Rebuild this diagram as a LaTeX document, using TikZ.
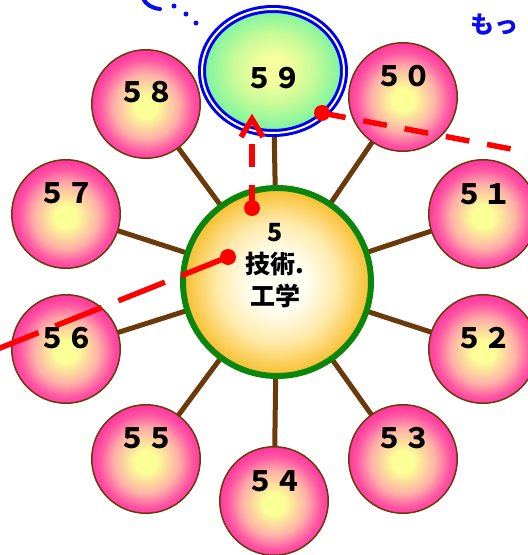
\documentclass[tikz,border=0pt]{standalone}
\usepackage{fontspec}
\newfontfamily\jp{Noto Sans CJK JP}
\usetikzlibrary{backgrounds,calc,shapes.geometric}
\definecolor{ballin}{HTML}{FAFF96}
\definecolor{ballmid}{HTML}{FFB0A8}
\definecolor{ballpk}{HTML}{FF55A4}
\definecolor{ballout}{HTML}{FF3A9C}
\definecolor{ballborder}{HTML}{6B3A0A}
\definecolor{spokebrown}{HTML}{6B3A0A}
\definecolor{ringgreen}{HTML}{0A870A}
\definecolor{corein}{HTML}{FFFFF6}
\definecolor{coremid}{HTML}{FFEAAA}
\definecolor{coreout}{HTML}{F8BE2C}
\definecolor{grin}{HTML}{F6FF9E}
\definecolor{grmid}{HTML}{C8FB98}
\definecolor{grout}{HTML}{78F49E}
\definecolor{ringblue}{HTML}{0000F0}
\definecolor{txtblue}{HTML}{0A0AEE}
\pgfdeclareradialshading{pinkball}{\pgfpoint{0bp}{-1.5bp}}{color(0bp)=(ballin); color(5bp)=(ballin); color(15bp)=(ballmid); color(21.5bp)=(ballpk); color(25bp)=(ballout); color(50bp)=(ballout)}
\pgfdeclareradialshading{coreshade}{\pgfpoint{0bp}{0bp}}{color(0bp)=(corein); color(7bp)=(corein); color(16bp)=(coremid); color(25bp)=(coreout); color(50bp)=(coreout)}
\pgfdeclareradialshading{greenball}{\pgfpoint{0bp}{1bp}}{color(0bp)=(grin); color(5bp)=(grin); color(14bp)=(grmid); color(25bp)=(grout); color(50bp)=(grout)}
\begin{document}
\begin{tikzpicture}[x=1pt,y=-1pt,
  ball/.style={circle, minimum size=108.5pt, inner sep=0pt, draw=ballborder, line width=1.5pt, shading=pinkball},
  core/.style={circle, minimum size=188pt, inner sep=0pt, draw=ringgreen, line width=6pt, shading=coreshade},
  goal/.style={ellipse, minimum width=142pt, minimum height=124pt, inner sep=0pt, draw=ringblue, double=white, line width=3pt, double distance=2pt, shading=greenball},
  numtxt/.style={font=\jp\bfseries\fontsize{28}{30}\selectfont, inner sep=0pt},
  coretxt/.style={font=\jp\bfseries\fontsize{25}{32}\selectfont, inner sep=0pt, align=center},
  spoke/.style={draw=spokebrown, line width=5pt},
  redline/.style={draw=red, line width=5.5pt},
  reddot/.style={circle, fill=red, minimum size=16pt, inner sep=0pt},
  bluetxt/.style={font=\jp\bfseries\fontsize{24}{26}\selectfont, text=txtblue, inner sep=0pt},
  bluedot/.style={circle, fill=txtblue, minimum size=5pt, inner sep=0pt}
]
\useasboundingbox (0,0) rectangle (528,555);
% nodes
\node[core] (c) at (277,282) {};
\node[goal] (s59) at (273,71) {};
\node[ball] (s50) at (403,97) {};
\node[ball] (s51) at (483,214) {};
\node[ball] (s52) at (483,349) {};
\node[ball] (s53) at (403,459) {};
\node[ball] (s54) at (274,501) {};
\node[ball] (s55) at (146,459) {};
\node[ball] (s56) at (66,349) {};
\node[ball] (s57) at (66,214) {};
\node[ball] (s58) at (146,104) {};
% spokes
\begin{scope}[on background layer]
  \fill[white] (0,0) rectangle (528,555);
  \foreach \s in {s59,s50,s51,s52,s53,s54,s55,s56,s57,s58}
    \draw[spoke] (c.center) -- (\s.center);
\end{scope}
% red connectors
\node[reddot] (d1) at (322,113) {};
\node[reddot] (d2) at (252,208) {};
\node[reddot] (d3) at (228,257) {};
\coordinate (e1) at (548,156);
\coordinate (e2) at (252,141);
\coordinate (e3) at (-20,356);
\coordinate (al) at (241,137);
\coordinate (ap) at (252,119);
\coordinate (ar) at (263,137);
\draw[redline, dash pattern=on 24pt off 18pt] (d1.center) -- (e1);
\draw[redline, dash pattern=on 23pt off 18pt] (d2.center) -- (e2);
\draw[redline, line join=miter] (al) -- (ap) -- (ar);
\draw[redline, dash pattern=on 50pt off 18pt] (d3.center) -- (e3);
% labels
\node[numtxt] (t59) at (273,78) {５９};
\node[numtxt] (t50) at (403,76) {５０};
\node[numtxt] (t51) at (483,194) {５１};
\node[numtxt] (t52) at (483,338) {５２};
\node[numtxt] (t53) at (403,438) {５３};
\node[numtxt] (t54) at (274,481) {５４};
\node[numtxt] (t55) at (146,438) {５５};
\node[numtxt] (t56) at (66,338) {５６};
\node[numtxt] (t57) at (66,193) {５７};
\node[numtxt] (t58) at (146,92) {５８};
\node[coretxt] (tc) at (275,266) {5\\技術.\\工学};
% blue text and clipped fragments at the top edge
\node[bluetxt, anchor=west] (b1) at (470,25) {もっ};
\draw[txtblue, line width=4pt, line cap=round] (143,-2) .. controls (146,5) and (152,8) .. (160,9);
\node[bluedot] (p1) at (174,6) {};
\node[bluedot] (p2) at (186,14) {};
\node[bluedot] (p3) at (196,23) {};
\end{tikzpicture}
\end{document}
